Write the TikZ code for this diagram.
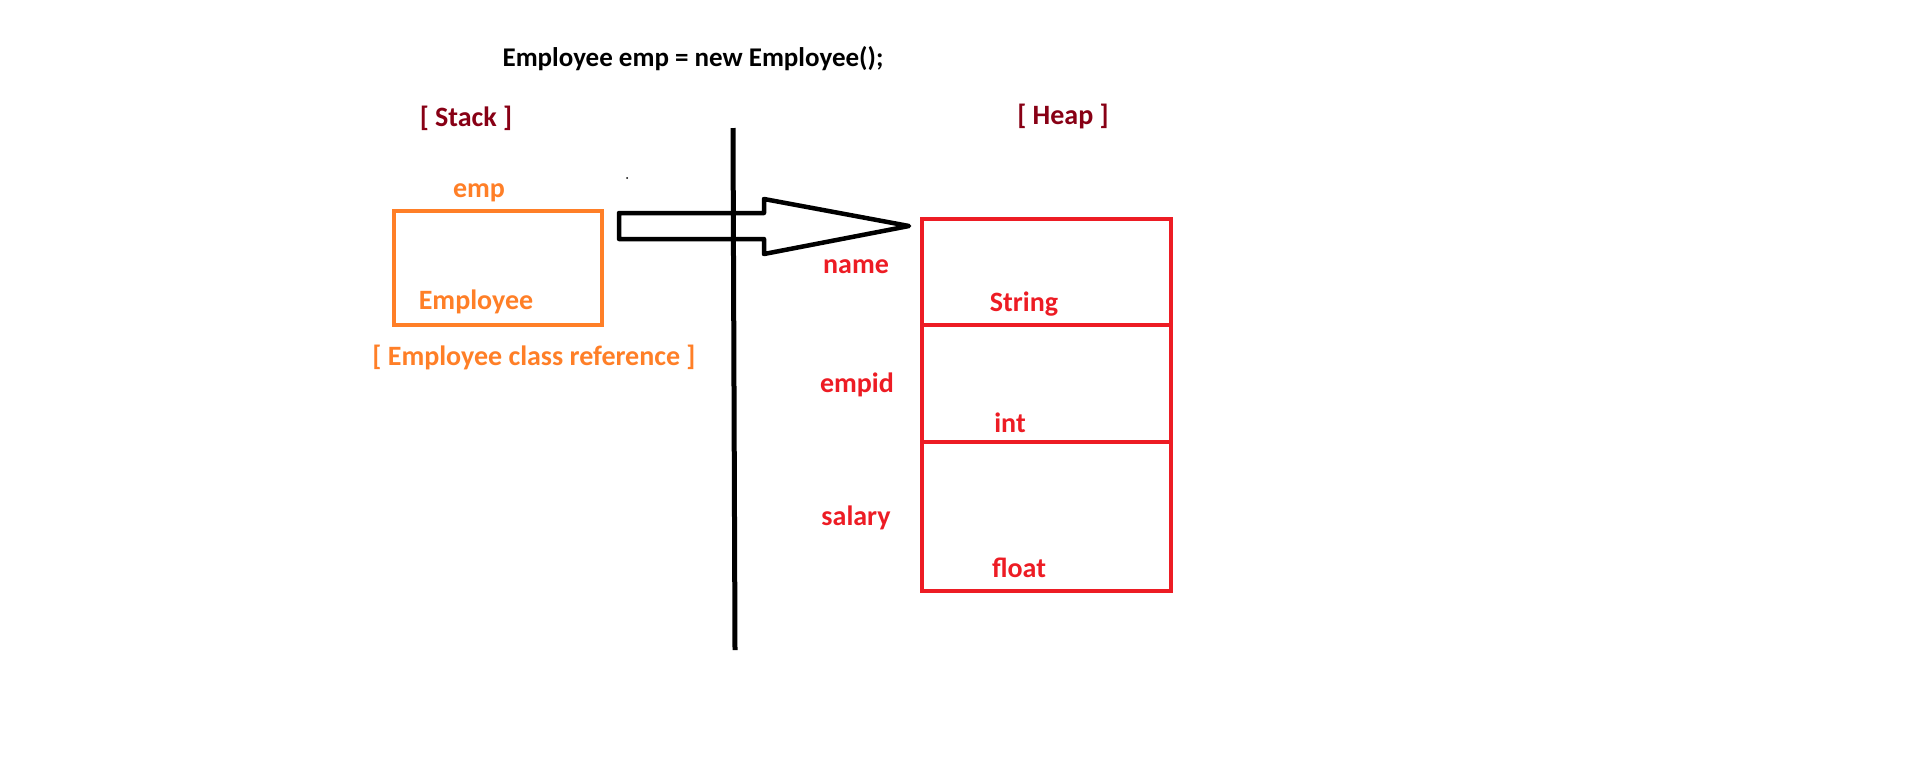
\documentclass[tikz,border=0pt]{standalone}
\usepackage{fontspec}
\setmainfont{Carlito}
\definecolor{paintred}{HTML}{ED1C24}
\definecolor{paintorange}{HTML}{FF7F27}
\definecolor{paintmaroon}{HTML}{880015}
\begin{document}
\begin{tikzpicture}[x=1pt,y=-1pt,
  lbl/.style={inner sep=0pt, anchor=base, font=\fontsize{28}{32}\selectfont\bfseries},
  titlelbl/.style={lbl, text=black, font=\fontsize{27}{32}\selectfont\bfseries},
  arealbl/.style={lbl, text=paintmaroon},
  stacklbl/.style={lbl, text=paintorange},
  heaplbl/.style={lbl, text=paintred},
  refbox/.style={draw=paintorange, line width=4.5pt, inner sep=0pt, outer sep=0pt,
    anchor=north west, minimum width=208pt},
  cell/.style={draw=paintred, line width=4.5pt, inner sep=0pt, outer sep=0pt,
    anchor=north west, minimum width=249pt},
  bigarrow/.style={draw=black, line width=4.5pt, line join=round},
  divider/.style={draw=black, line width=5pt}
]
\useasboundingbox (0,0) rectangle (1910,772);
\fill[white] (0,0) rectangle (1910,772);

% statement and memory areas
\node[titlelbl] (stmt) at (693,66) {Employee emp = new Employee();};
\node[arealbl] (stack) at (466,126) {[ Stack ]};
\node[arealbl] (heap) at (1063,124) {[ Heap ]};

% separator between stack and heap
\coordinate (sepTop) at (733,128);
\coordinate (sepBot) at (735,650);
\draw[divider] (sepTop) -- (sepBot);

% reference variable on the stack
\node[refbox, minimum height=114pt] (empbox) at (394,211) {};
\node[stacklbl] (emp) at (479,197) {emp};
\node[stacklbl] (emptype) at (476,309) {Employee};
\node[stacklbl] (empref) at (534,365) {[ Employee class reference ]};

% object on the heap
\node[cell, minimum height=106pt] (cname) at (922,219) {};
\node[cell, minimum height=117pt] (cid) at (cname.south west) {};
\node[cell, minimum height=149pt] (csal) at (cid.south west) {};
\node[heaplbl] (fname) at (856,273) {name};
\node[heaplbl] (fid) at (857,392) {empid};
\node[heaplbl] (fsal) at (856,525) {salary};
\node[heaplbl] (tname) at (1024,311) {String};
\node[heaplbl] (tid) at (1010,432) {int};
\node[heaplbl] (tsal) at (1019,577) {float};

% hollow block arrow from the reference to the object
\coordinate (a1) at (619,213);
\coordinate (a2) at (764,213);
\coordinate (a3) at (764,199);
\coordinate (tip) at (909,226);
\coordinate (a5) at (764,254);
\coordinate (a6) at (764,239);
\coordinate (a7) at (619,239);
\draw[bigarrow] (a1) -- (a2) -- (a3) -- (tip) -- (a5) -- (a6) -- (a7) -- cycle;

% speck
\coordinate (speck) at (627,178);
\fill[black] (speck) circle (1pt);
\end{tikzpicture}
\end{document}
